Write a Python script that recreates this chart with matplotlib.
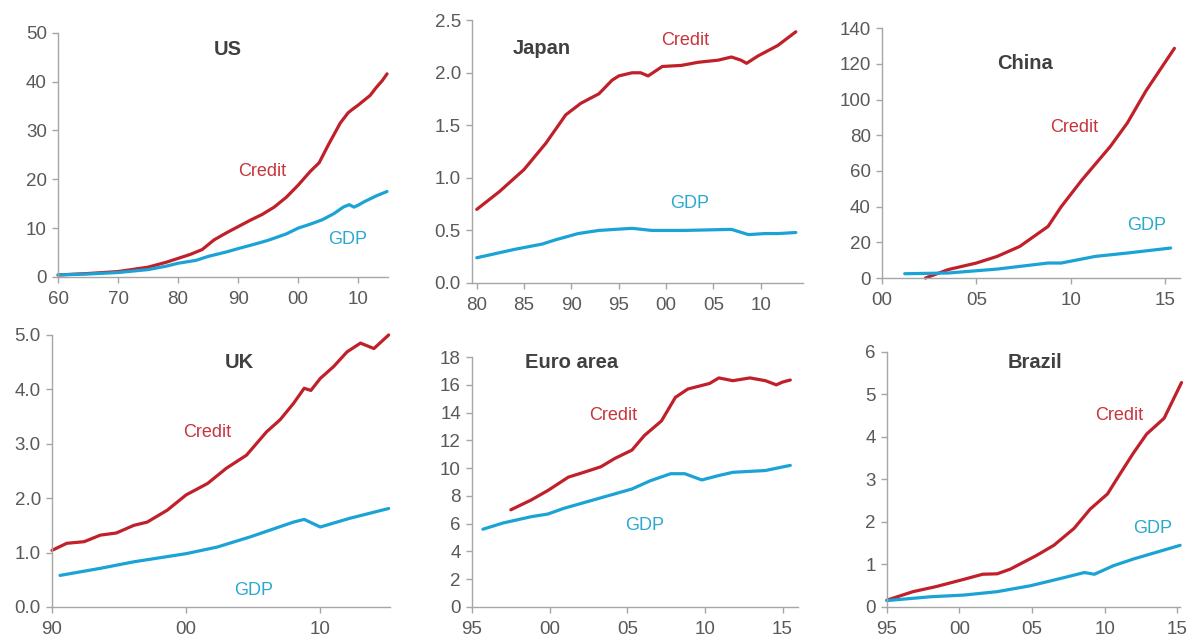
import matplotlib
matplotlib.use("Agg")
import matplotlib.pyplot as plt
from matplotlib.ticker import FixedLocator

plt.rcParams["font.family"] = ["Liberation Sans", "DejaVu Sans"]

# ─── data ─────────────────────────────────────────────────────────────────────
us_credit_years = [1960, 1965, 1970, 1975, 1978, 1980, 1982, 1984, 1986, 1988, 1990, 1992, 1994,
                   1996, 1998, 2000, 2002, 2003.5, 2005, 2007, 2008.3, 2009, 2010, 2011, 2012,
                   2013, 2014, 2014.8]
us_credit = [0.4, 0.7, 1.1, 2.0, 3.0, 3.8, 4.6, 5.6, 7.6, 9.0, 10.3, 11.6, 12.8, 14.3, 16.3,
             18.8, 21.6, 23.4, 27.0, 31.5, 33.6, 34.3, 35.2, 36.2, 37.2, 38.8, 40.2, 41.6]
us_gdp_years = [1960, 1965, 1970, 1975, 1978, 1980, 1983, 1985, 1988, 1990, 1993, 1995, 1998,
                2000, 2002, 2004, 2006, 2007.5, 2008.5, 2009.3, 2010, 2011, 2012, 2013, 2014, 2014.8]
us_gdp = [0.4, 0.6, 0.9, 1.5, 2.2, 2.8, 3.4, 4.2, 5.1, 5.8, 6.8, 7.5, 8.8, 10.0, 10.8, 11.7,
          13.0, 14.3, 14.8, 14.3, 14.7, 15.4, 16.0, 16.6, 17.1, 17.5]

jp_credit_years = [1980, 1982.4, 1985, 1987.3, 1989.4, 1991, 1992.9, 1994.3, 1995, 1996.4, 1997.3,
                   1998.1, 1999.6, 2001.6, 2003.4, 2005.5, 2006.9, 2007.9, 2008.5, 2009.7, 2011.8, 2013.7]
jp_credit = [0.70, 0.87, 1.08, 1.33, 1.60, 1.71, 1.80, 1.93, 1.97, 2.00, 2.00, 1.97, 2.06, 2.07,
             2.10, 2.12, 2.15, 2.12, 2.09, 2.16, 2.26, 2.39]
jp_gdp_years = [1980, 1984, 1986.9, 1988.3, 1990.7, 1992.9, 1996.4, 1998.5, 2002, 2006.9,
                2008.7, 2010.4, 2011.8, 2013.7]
jp_gdp = [0.24, 0.32, 0.37, 0.41, 0.47, 0.50, 0.52, 0.50, 0.50, 0.51, 0.46, 0.47, 0.47, 0.48]

cn_credit_years = [2002.3, 2003.5, 2005, 2006.1, 2007.3, 2008.8, 2009.5, 2010.6, 2012.1, 2013,
                   2014, 2015.5]
cn_credit = [0, 4.7, 8.4, 12.1, 17.7, 28.9, 40, 55, 73.7, 86.8, 105, 128.7]
cn_gdp_years = [2001.2, 2003.5, 2006.1, 2008.8, 2009.5, 2011.3, 2013, 2015.3]
cn_gdp = [2.4, 2.8, 5.0, 8.4, 8.4, 12.1, 14.0, 16.8]

uk_credit_years = [1990, 1991.1, 1992.4, 1993.6, 1994.8, 1996.1, 1997.1, 1998.6, 2000, 2001.6,
                   2003, 2004.5, 2006, 2007, 2008, 2008.8, 2009.3, 2010, 2011, 2012, 2013, 2014,
                   2015.1]
uk_credit = [1.04, 1.17, 1.20, 1.32, 1.36, 1.50, 1.56, 1.78, 2.06, 2.27, 2.55, 2.79, 3.22, 3.44,
             3.74, 4.02, 3.98, 4.20, 4.42, 4.69, 4.85, 4.75, 5.00]
uk_gdp_years = [1990.6, 1993.6, 1996.1, 2000, 2002.3, 2004.8, 2008, 2008.8, 2010, 2012.2, 2015.1]
uk_gdp = [0.58, 0.71, 0.83, 0.98, 1.10, 1.29, 1.56, 1.61, 1.47, 1.63, 1.81]

ea_credit_years = [1997.5, 1998.8, 1999.9, 2001.2, 2002.2, 2003.3, 2004.2, 2005.3, 2006.1, 2007.2,
                   2008.1, 2008.9, 2010.3, 2010.9, 2011.8, 2012.9, 2013.9, 2014.6, 2015, 2015.5]
ea_credit = [7.0, 7.7, 8.4, 9.35, 9.7, 10.1, 10.7, 11.3, 12.35, 13.4, 15.1, 15.7, 16.1, 16.5,
             16.3, 16.5, 16.3, 16.0, 16.2, 16.35]
ea_gdp_years = [1995.7, 1997, 1998.8, 1999.9, 2000.9, 2003.1, 2005.3, 2006.5, 2007.8, 2008.7,
                2009.8, 2010.9, 2011.8, 2013.9, 2015.5]
ea_gdp = [5.6, 6.05, 6.5, 6.7, 7.1, 7.8, 8.5, 9.1, 9.6, 9.6, 9.15, 9.47, 9.7, 9.83, 10.2]

br_credit_years = [1995, 1996.8, 1998.4, 2000.3, 2001.6, 2002.6, 2003.5, 2005.3, 2006.5, 2007.9,
                   2009, 2010.2, 2011.1, 2012, 2012.9, 2014.1, 2015.3]
br_credit = [0.16, 0.36, 0.48, 0.65, 0.77, 0.78, 0.89, 1.21, 1.45, 1.85, 2.30, 2.66, 3.15, 3.63,
             4.07, 4.44, 5.28]
br_gdp_years = [1995, 1998, 2000.3, 2002.6, 2004.9, 2007.2, 2008.6, 2009.3, 2010.6, 2012,
                2013.6, 2015.2]
br_gdp = [0.15, 0.24, 0.28, 0.36, 0.50, 0.69, 0.81, 0.77, 0.97, 1.13, 1.29, 1.45]

# ─── panel settings ───────────────────────────────────────────────────────────
CREDIT_C = "#C0202A"
GDP_C = "#1BA3D6"
AX_C = "#A6A6A6"
TXT_C = "#595959"

panels = [
    dict(name="US", rect=[0.0487, 0.570, 0.277, 0.379],
         cx=us_credit_years, cy=us_credit, gx=us_gdp_years, gy=us_gdp,
         xlim=(1960, 2015), xt=[1960, 1970, 1980, 1990, 2000, 2010],
         xl=["60", "70", "80", "90", "00", "10"],
         ylim=(0, 50), yt=[0, 10, 20, 30, 40, 50], yfmt="{:.0f}",
         title=(1988.2, 46.5), clab=(1994, 21.5), glab=(2008.2, 7.6)),
    dict(name="Japan", rect=[0.396, 0.5606, 0.278, 0.408],
         cx=jp_credit_years, cy=jp_credit, gx=jp_gdp_years, gy=jp_gdp,
         xlim=(1979.5, 2014.5), xt=[1980, 1985, 1990, 1995, 2000, 2005, 2010],
         xl=["80", "85", "90", "95", "00", "05", "10"],
         ylim=(0, 2.5), yt=[0, 0.5, 1.0, 1.5, 2.0, 2.5], yfmt="{:.1f}",
         title=(1986.9, 2.23), clab=(2002, 2.31), glab=(2002.5, 0.76)),
    dict(name="China", rect=[0.740, 0.5683, 0.250, 0.388],
         cx=cn_credit_years, cy=cn_credit, gx=cn_gdp_years, gy=cn_gdp,
         xlim=(2000, 2015.8), xt=[2000, 2005, 2010, 2015],
         xl=["00", "05", "10", "15"],
         ylim=(0, 140), yt=[0, 20, 40, 60, 80, 100, 120, 140], yfmt="{:.0f}",
         title=(2007.6, 120), clab=(2010.2, 84.5), glab=(2014, 29.7)),
    dict(name="UK", rect=[0.0436, 0.0575, 0.2836, 0.4224],
         cx=uk_credit_years, cy=uk_credit, gx=uk_gdp_years, gy=uk_gdp,
         xlim=(1990, 2015.2), xt=[1990, 2000, 2010],
         xl=["90", "00", "10"],
         ylim=(0, 5), yt=[0, 1, 2, 3, 4, 5], yfmt="{:.1f}",
         title=(2004, 4.5), clab=(2001.6, 3.2), glab=(2005, 0.31)),
    dict(name="Euro area", rect=[0.396, 0.0575, 0.2735, 0.388],
         cx=ea_credit_years, cy=ea_credit, gx=ea_gdp_years, gy=ea_gdp,
         xlim=(1995, 2016), xt=[1995, 2000, 2005, 2010, 2015],
         xl=["95", "00", "05", "10", "15"],
         ylim=(0, 18), yt=list(range(0, 19, 2)), yfmt="{:.0f}",
         title=(2001.4, 17.6), clab=(2004.1, 13.8), glab=(2006.1, 5.9)),
    dict(name="Brazil", rect=[0.744, 0.0575, 0.246, 0.396],
         cx=br_credit_years, cy=br_credit, gx=br_gdp_years, gy=br_gdp,
         xlim=(1995, 2015.2), xt=[1995, 2000, 2005, 2010, 2015],
         xl=["95", "00", "05", "10", "15"],
         ylim=(0, 6), yt=[0, 1, 2, 3, 4, 5, 6], yfmt="{:.0f}",
         title=(2005.2, 5.75), clab=(2011, 4.5), glab=(2013.3, 1.85)),
]

fig = plt.figure(figsize=(11.92, 6.44), dpi=100)

for p in panels:
    ax = fig.add_axes(p["rect"])
    ax.plot(p["cx"], p["cy"], color=CREDIT_C, lw=2.3, solid_capstyle="round", clip_on=False)
    ax.plot(p["gx"], p["gy"], color=GDP_C, lw=2.3, solid_capstyle="round", clip_on=False)
    ax.set_xlim(*p["xlim"])
    ax.set_ylim(*p["ylim"])
    ax.xaxis.set_major_locator(FixedLocator(p["xt"]))
    ax.set_xticklabels(p["xl"])
    ax.set_yticks(p["yt"])
    ax.set_yticklabels([p["yfmt"].format(v) for v in p["yt"]])
    for s in ("top", "right"):
        ax.spines[s].set_visible(False)
    for s in ("left", "bottom"):
        ax.spines[s].set_color(AX_C)
        ax.spines[s].set_linewidth(1.0)
    ax.tick_params(axis="both", colors=AX_C, labelcolor=TXT_C, labelsize=13.5,
                   direction="out", length=4, width=1)
    ax.tick_params(axis="y", pad=4)
    ax.tick_params(axis="x", pad=6)
    tx, ty = p["title"]
    ax.text(tx, ty, p["name"], fontsize=14.5, fontweight="bold", color="#404040",
            ha="center", va="center")
    ax.text(*p["clab"], "Credit", fontsize=13, color="#C8343C", ha="center", va="center")
    ax.text(*p["glab"], "GDP", fontsize=13, color="#2BA8CF", ha="center", va="center")

fig.savefig("out.png", dpi=100)
